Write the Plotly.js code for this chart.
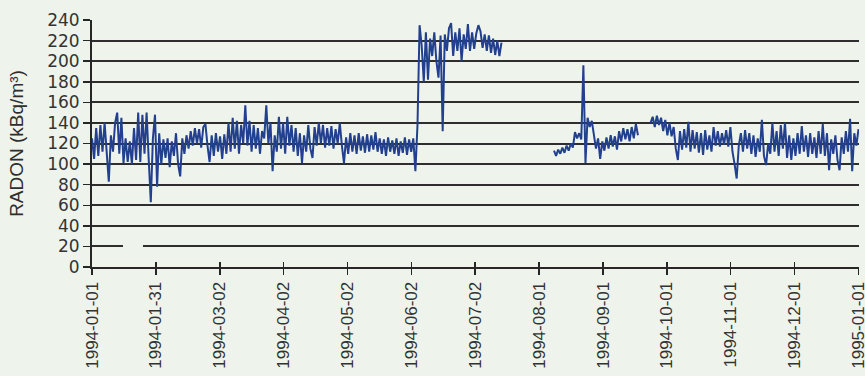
<!DOCTYPE html>
<html>
<head>
<meta charset="utf-8">
<script src="https://cdn.plot.ly/plotly-3.0.1.min.js"></script>
<style>
  html, body { margin: 0; padding: 0; background: #eef3ec; }
  #chart { width: 865px; height: 376px; }
</style>
</head>
<body>
<div id="chart"></div>
<script>
// ---- Data (daily readings, kBq/m³) ----
const seg1Start = '1994-01-01';
const seg1 = [
  125,105,135,108,138,112,140,115,83,128,
  112,140,150,110,145,101,125,102,122,100,
  135,104,150,102,148,110,150,105,63,125,
  148,78,130,100,124,106,125,97,122,108,
  130,100,88,125,110,128,115,132,118,135,
  120,134,116,136,139,118,102,128,108,130,
  112,127,105,129,110,140,112,145,115,142,
  110,138,120,157,118,142,112,138,115,135,
  110,132,125,157,120,140,93,128,112,146,
  115,140,110,146,118,138,112,135,108,130,
  101,128,112,138,115,106,136,118,140,120,
  138,116,135,118,137,115,134,120,140,118,
  101,126,110,130,112,128,110,130,113,127,
  111,129,112,128,114,131,112,125,110,124,
  108,126,112,123,110,125,108,122,111,126,
  109,124,112,125,93,138,235,215,180,228,
  182,222,205,228,200,184,225,132,226,210,
  232,237,205,228,210,232,200,226,212,236,
  210,228,212,227,235,229,213,226,210,225,
  208,222,206,220,205,218
];
const seg2Start = '1994-08-09';
const seg2 = [
  113,108,114,110,116,111,118,113,120,116,
  131,125,130,124,196,101,145,136,142,128,
  115,125,105,122,113,126,115,128,117,127,
  114,132,122,135,124,134,122,136,125,139,
  128
];
const seg3Start = '1994-09-24';
const seg3 = [
  140,146,136,147,138,145,132,143,128,140,
  127,136,115,104,132,114,134,116,141,112,
  133,115,131,111,130,109,133,114,128,112,
  136,118,132,117,130,119,133,117,136,112,
  100,86,118,130,112,133,115,130,110,128,
  107,125,112,143,108,99,120,110,140,112,
  132,108,138,115,140,106,128,104,125,108,
  130,110,137,112,128,107,130,110,126,106,
  132,110,139,108,130,94,124,110,128,104,
  94,126,110,132,112,144,93,130,118,134
];
const tickLabels = ['1994-01-01','1994-01-31','1994-03-02','1994-04-02','1994-05-02','1994-06-02',
  '1994-07-02','1994-08-01','1994-09-01','1994-10-01','1994-11-01','1994-12-01','1995-01-01'];
const yTicks = [0,20,40,60,80,100,120,140,160,180,200,220,240];

// ---- build traces ----
const DAY = 86400000;
function iso(ms){ return new Date(ms).toISOString().slice(0,19).replace('T',' '); }
function seg(start, vals, xs, ys){
  const t0 = Date.parse(start + 'T00:00:00Z');
  vals.forEach((v,i)=>{ xs.push(iso(t0 + i*DAY)); ys.push(v); });
}
const xs = [], ys = [];
seg(seg1Start, seg1, xs, ys); xs.push(null); ys.push(null);
seg(seg2Start, seg2, xs, ys); xs.push(null); ys.push(null);
seg(seg3Start, seg3, xs, ys);

const t0 = Date.parse('1994-01-01T00:00:00Z');
const t1 = Date.parse('1995-01-01T00:00:00Z');
const tickVals = tickLabels.map((_,k)=> iso(t0 + k*(t1-t0)/(tickLabels.length-1)));
const pad = 0.25*DAY;

const bg = '#eef3ec';
const ink = '#262626';

const data = [{
  x: xs, y: ys, type: 'scatter', mode: 'lines',
  line: { color: '#23408e', width: 2 },
  connectgaps: false, hoverinfo: 'skip'
},{
  x: [iso(t0)], y: [null], xaxis: 'x2', type: 'scatter', mode: 'lines', showlegend: false
}];

const layout = {
  width: 865, height: 376,
  margin: { l: 92, r: 6, t: 20, b: 109 },
  paper_bgcolor: bg, plot_bgcolor: bg,
  showlegend: false,
  font: { family: 'Liberation Sans, Arial, sans-serif', color: ink },
  xaxis: {
    type: 'date', range: [iso(t0), iso(t1 + pad)],
    tickmode: 'array', tickvals: tickVals, ticktext: tickLabels,
    tickangle: -90, tickfont: { size: 17, color: '#333' },
    ticklabeloverflow: 'allow',
    ticks: 'outside', ticklen: 6, tickwidth: 1.5, tickcolor: ink,
    showgrid: false, zeroline: false,
    showline: true, linecolor: ink, linewidth: 2
  },
  xaxis2: {
    type: 'date', range: [iso(t0), iso(t1 + pad)], overlaying: 'x', anchor: 'y', side: 'bottom',
    tickmode: 'array', tickvals: tickVals, ticktext: tickLabels, showticklabels: false,
    ticks: 'inside', ticklen: 5, tickwidth: 1.5, tickcolor: ink,
    showgrid: false, zeroline: false, showline: false
  },
  yaxis: {
    range: [0, 240], tickmode: 'array', tickvals: yTicks,
    tickfont: { size: 17, family: 'DejaVu Sans, sans-serif', color: '#333' },
    ticks: 'outside', ticklen: 7, tickwidth: 1.5, tickcolor: ink,
    showgrid: true, gridcolor: '#2e2e2e', gridwidth: 2,
    zeroline: false, showline: true, linecolor: ink, linewidth: 2,
    title: { text: 'RADON (kBq/m³)', font: { size: 19, color: '#2e2e2e' }, standoff: 18 }
  },
  shapes: [
    { type: 'line', xref: 'paper', yref: 'y', x0: (123-92)/767, x1: (143-92)/767, y0: 20, y1: 20,
      line: { color: bg, width: 4 }, layer: 'above' },
    { type: 'line', xref: 'paper', yref: 'y', x0: (367-92)/767, x1: (372-92)/767, y0: 0, y1: 0,
      line: { color: bg, width: 4 }, layer: 'above' }
  ]
};

Plotly.newPlot('chart', data, layout, { displayModeBar: false, staticPlot: true });
</script>
</body>
</html>
